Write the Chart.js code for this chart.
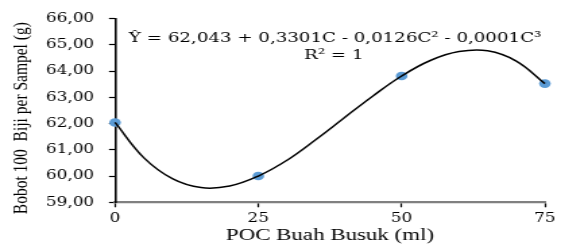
<!DOCTYPE html>
<html>
<head>
<meta charset="utf-8">
<script src="https://cdn.jsdelivr.net/npm/chart.js@4.4.1/dist/chart.umd.min.js"></script>
<style>
  html, body { margin: 0; padding: 0; background: #fff; overflow: hidden; }
  /* the reference picture is stretched sideways, so draw narrow and widen it */
  #wrap { width: 416px; height: 248px; transform: scaleX(1.3486); transform-origin: 0 0; }
</style>
</head>
<body>
<div id="wrap"><canvas id="chart" width="416" height="248"></canvas></div>
<script>
// observed values
const pocDose = [0, 25, 50, 75];
const seedWeight = [62.04, 60.00, 63.81, 63.52];

// trendline
const fitDose = [0, 5, 10, 15, 20, 25, 30, 35, 40, 45, 50, 55, 60, 65, 70, 75];
const fitWeight = [62.04, 60.70, 59.90, 59.56, 59.62, 60.00, 60.60, 61.38, 62.22, 63.05, 63.81, 64.40, 64.74, 64.77, 64.38, 63.52];

const xTicks = [0, 25, 50, 75];
const yTicks = [59, 60, 61, 62, 63, 64, 65, 66];
const equationLines = ['Ŷ = 62,043 + 0,3301C - 0,0126C² - 0,0001C³', 'R² = 1'];

function comma(v) {
    return v.toFixed(2).replace('.', ',');
}

const equationText = {
    id: 'equationText',
    afterDatasetsDraw(chart) {
        let ctx = chart.ctx;
        let x = chart.scales.x.getPixelForValue(38.4);
        ctx.save();
        ctx.fillStyle = '#000';
        ctx.textAlign = 'center';
        ctx.textBaseline = 'alphabetic';
        ctx.font = '13.5px "DejaVu Serif"';
        ctx.fillText(equationLines[0], x, chart.scales.y.getPixelForValue(65.11));
        ctx.fillText(equationLines[1], x - 1, chart.scales.y.getPixelForValue(64.46));
        ctx.restore();
    }
};

let ctx = document.getElementById('chart').getContext('2d');
let chart = new Chart(ctx, {
    type: 'scatter',
    data: {
        datasets: [{
            label: 'fit',
            data: fitDose.map((d, i) => ({ x: d, y: fitWeight[i] })),
            showLine: true,
            borderColor: '#000',
            borderWidth: 1.5,
            pointRadius: 0,
            tension: 0.4,
            clip: false,
            order: 0
        }, {
            label: 'data',
            data: pocDose.map((d, i) => ({ x: d, y: seedWeight[i] })),
            showLine: false,
            backgroundColor: '#5B9BD5',
            borderWidth: 0,
            pointRadius: 4.3,
            clip: false,
            order: 1
        }]
    },
    options: {
        responsive: false,
        animation: false,
        layout: {
            padding: { top: 13.3, right: 7.4, left: 0, bottom: 0 }
        },
        scales: {
            x: {
                type: 'linear',
                min: 0,
                max: 75,
                afterBuildTicks: s => { s.ticks = xTicks.map(v => ({ value: v })); },
                afterFit: s => { s.height = 45.7; },
                border: { color: '#808080', width: 2.3 },
                grid: { drawOnChartArea: false, tickLength: 5, tickColor: '#000', tickWidth: 1.2 },
                ticks: {
                    color: '#000',
                    padding: 4,
                    maxRotation: 0,
                    font: { family: 'DejaVu Serif', size: 12.5 }
                },
                title: {
                    display: true,
                    text: 'POC Buah Busuk (ml)',
                    color: '#000',
                    font: { family: 'Liberation Serif', size: 17 },
                    padding: { top: 0, bottom: 1.8 }
                }
            },
            y: {
                min: 59,
                max: 66,
                afterBuildTicks: s => { s.ticks = yTicks.map(v => ({ value: v })); },
                afterFit: s => { s.width = 85.3; },
                border: { color: '#000', width: 1.6 },
                grid: { drawOnChartArea: false, tickLength: 4.5, tickColor: '#000', tickWidth: 1.2 },
                ticks: {
                    color: '#000',
                    padding: 11,
                    font: { family: 'DejaVu Serif', size: 12.5 },
                    callback: v => comma(v)
                },
                title: {
                    display: true,
                    // trailing spaces push the centred title a little lower, as in the picture
                    text: 'Bobot 100  Biji per Sampel (g)\u00a0\u00a0\u00a0\u00a0',
                    color: '#000',
                    font: { family: 'Liberation Serif', size: 15.5 },
                    padding: { top: 6.5, bottom: 0 }
                }
            }
        },
        plugins: {
            legend: { display: false },
            tooltip: { enabled: false }
        }
    },
    plugins: [equationText]
});
</script>
</body>
</html>
